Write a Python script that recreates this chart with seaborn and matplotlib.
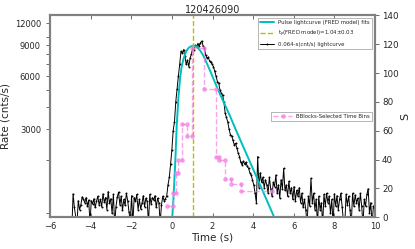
import numpy as np
import pandas as pd
import seaborn as sns
import matplotlib.pyplot as plt
from matplotlib.ticker import FixedLocator, NullFormatter

# 0.064 s lightcurve (cnts/s), bins start at t_first
t_first = -4.928
bin_width = 0.064
rate_pre = [800, 1290, 1080, 960, 880, 1180, 1050, 1120, 1240, 1200,
            1150, 1230, 1100, 1190, 880, 1180, 1130, 1210, 1080, 1170,
            1250, 1120, 1200, 1090, 1290, 1160, 1230, 1050, 1330, 1140,
            1210, 1000, 1280, 870, 1090, 1240, 1320, 1120, 1250, 1040,
            1200, 1110, 1300, 1180, 1020, 900, 1260, 880, 1230, 1170,
            1280, 1050, 1200, 1060, 1140, 1260, 1090, 1220, 1170, 880,
            1280, 1130, 1230, 1190, 1260, 1080, 1220, 1150, 880, 1120,
            1250, 1180, 1210]
rate_burst = [1250, 1450, 1600, 1900, 2300, 2950, 3300,
              4300, 5100, 6000, 7000, 8300, 8100, 8500, 7800, 7000, 7400,
              6800, 7600, 8000, 8700, 8500, 9000, 8800, 9200, 8900, 9300,
              9500, 8900, 8700, 7900, 7600, 7700, 7300, 7200, 7000, 6800,
              6400, 6000, 5600, 5500, 5000, 4800, 4700, 4300, 3700, 3500,
              3300, 3000, 2800, 2750, 2600, 2450, 2500, 2350, 2200, 2100,
              1950, 1880, 1980, 1900, 1950, 1850, 1800, 1700, 1650, 1550,
              1450, 1300, 1150, 2100, 1400, 1700, 1500, 1600, 1400, 1550]
rate_tail = [1450, 1300, 1600, 1380, 1250, 1500, 1420, 1650, 1300, 1450,
             1220, 1550, 1380, 1800, 1350, 1450, 1250, 1520, 1300, 1400,
             1200, 1420, 1180, 1350, 1250, 1400, 1150, 1300, 1080, 1200,
             1050, 860, 1250, 1100, 1580, 1150, 1300, 1050, 1200, 860,
             1250, 1050, 1150, 860, 1280, 1100, 1300, 1150, 1250, 1000,
             1200, 860, 1290, 1100, 1260, 1050, 1200, 1300, 1080, 900,
             860, 1280, 1120, 1250, 1050, 860, 1300, 1100, 1270, 1150,
             1220, 1050, 1300, 1100, 860, 1200, 1100, 1280, 1380, 1000,
             1150, 860, 1100, 1050]

# FRED model fit
fred_t = [-0.01, 0.02, 0.07, 0.16, 0.24, 0.32, 0.40, 0.48, 0.57, 0.65, 0.73,
          0.85, 0.98, 1.06, 1.14, 1.25, 1.39, 1.55, 1.72, 1.92, 2.13, 2.35,
          2.54, 2.87, 3.11, 3.52, 3.85, 4.18, 4.67, 5.03, 5.10]
fred_rate = [600, 955, 1170, 1880, 3170, 4500, 5800, 6800, 7500, 8000, 8400,
             8750, 8900, 8950, 8900, 8750, 8400, 7850, 7100, 6300, 5500, 4800,
             4300, 3550, 3050, 2380, 1950, 1600, 1190, 955, 900]
t_peak = 1.04

# Bayesian blocks (right axis)
bb_start = [-0.25, 0.06, 0.20, 0.32, 0.52, 0.76, 0.98, 1.60, 2.16, 2.34, 2.62, 2.90, 3.41]
bb_stop = [0.06, 0.20, 0.32, 0.52, 0.76, 0.98, 1.60, 2.16, 2.34, 2.62, 2.90, 3.41, 4.92]
bb_s = [8, 17, 31, 40, 65, 56, 117, 89, 41.5, 39.7, 26.5, 23, 18.4]

sns.set_style('white')
plt.rcParams['font.family'] = ['DejaVu Sans']

rate = rate_pre + rate_burst + rate_tail
lc = pd.DataFrame({'t': t_first + bin_width * np.arange(len(rate)), 'rate': rate})
fred = pd.DataFrame({'t': fred_t, 'rate': fred_rate})

bb_rows = []
for a, b, s in zip(bb_start, bb_stop, bb_s):
    bb_rows.append((a, s))
    bb_rows.append((b, s))
bb = pd.DataFrame(bb_rows, columns=['t', 's'])

fig = plt.figure(figsize=(4.15, 2.49), dpi=100)
ax = fig.add_axes([0.1205, 0.1273, 0.7831, 0.8113])
ax2 = ax.twinx()

sns.lineplot(data=lc, x='t', y='rate', ax=ax, color='black', lw=0.7,
             marker='.', ms=1.3, mec='black', sort=False, estimator=None,
             label='0.064-s(cnt/s) lightcurve', zorder=2)
sns.lineplot(data=fred, x='t', y='rate', ax=ax, color='#00bfbf', lw=1.4,
             sort=False, estimator=None, label='Pulse lightcurve (FRED model) fits', zorder=3)
ax.axvline(t_peak, color='#bfbf00', ls='--', lw=1,
           label='t$_{p}$(FRED model)=1.04±0.03', zorder=4)

sns.lineplot(data=bb, x='t', y='s', ax=ax2, color='#f77fe6', lw=1, ls='--',
             marker='o', ms=2.5, mec='#f77fe6', alpha=0.7, sort=False,
             estimator=None, label='BBlocks-Selected Time Bins')

ax.set_xlim(-6, 10)
ax.set_xticks(range(-6, 11, 2))
ax.set_yscale('log')
ax.set_ylim(950, 13300)
ax.set_yticks([3000, 6000, 9000, 12000], labels=['3000', '6000', '9000', '12000'])
ax.yaxis.set_minor_locator(FixedLocator([1000, 2000, 4000, 5000, 7000, 8000, 10000]))
ax.yaxis.set_minor_formatter(NullFormatter())
ax.tick_params(axis='y', which='both', direction='out', length=3, width=0.6,
               left=True, right=False, labelsize=6, color='#555555')
ax.tick_params(axis='x', direction='in', top=True, bottom=True, length=3,
               width=0.6, labelsize=6, color='#555555')

ax2.set_ylim(0, 140)
ax2.set_yticks(range(0, 141, 20))
ax2.tick_params(axis='y', direction='out', length=3, width=0.6, labelsize=6.3,
                color='#555555', pad=2)

ax.set_xlabel('Time (s)', fontsize=7.5, labelpad=1)
ax.set_ylabel('Rate (cnts/s)', fontsize=7.5, labelpad=3)
ax2.set_ylabel('S', fontsize=8, labelpad=1)
ax.set_title('120426090', fontsize=7, pad=2)

for a in (ax, ax2):
    for sp in a.spines.values():
        sp.set_color('#808080')
        sp.set_linewidth(1.5)

h, l = ax.get_legend_handles_labels()
order = [1, 2, 0]
leg1 = ax.legend([h[i] for i in order], [l[i] for i in order], loc='upper right',
                 fontsize=3.9, fancybox=False, framealpha=1, edgecolor='#999999',
                 handlelength=2.6, borderaxespad=0.5, labelspacing=0.6)
leg1.get_frame().set_linewidth(0.5)
leg2 = ax2.legend(loc='center right', fontsize=3.9, fancybox=False, framealpha=1,
                  edgecolor='#999999', handlelength=3.5, borderaxespad=0.5)
leg2.get_frame().set_linewidth(0.5)

fig.savefig('out.png', dpi=100)
